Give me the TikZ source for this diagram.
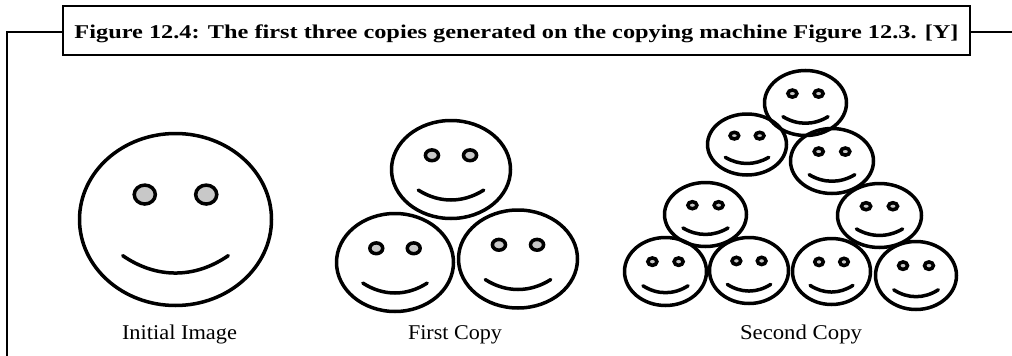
\documentclass[tikz,border=0pt]{standalone}
\usepackage{fontspec}
\setmainfont{Liberation Serif}
\usepackage{graphicx}

\definecolor{eyegray}{RGB}{200,200,200}

\tikzset{
  frameline/.style={line width=2.5pt, black},
  faceline/.style={line width=3.5pt, black},
  titlebox/.style={draw, line width=2.8pt, minimum width=907pt, minimum height=49pt,
    inner sep=0pt, text height=17pt, text depth=2pt},
  caption/.style={anchor=base, inner sep=0pt, font=\fontsize{21}{25}\selectfont}
}

% smiley face: centre x, centre y, x radius, y radius
\newcommand\smileyface[4]{%
  \begin{scope}[shift={(#1,#2)}, xscale=#3, yscale=#4]
    \draw[faceline] (0,0) circle[radius=1];
    \draw[faceline, fill=eyegray] (-0.32,-0.29) circle[radius=0.11];
    \draw[faceline, fill=eyegray] ( 0.32,-0.29) circle[radius=0.11];
    \draw[faceline, line cap=round] (-0.55,0.42) .. controls (-0.2,0.69) and (0.2,0.69) .. (0.55,0.42);
  \end{scope}}

\begin{document}
\begin{tikzpicture}[x=1pt, y=-1pt]
  \useasboundingbox (0,0) rectangle (1012,356);

  % title box and the frame running out of it
  \node[titlebox] (title) at (516.5,30.5)
    {\resizebox{884pt}{\height}{\fontsize{19.5}{23}\selectfont\bfseries
      Figure 12.4: The first three copies generated on the copying machine Figure 12.3. [Y]}};
  \coordinate (frameTL) at (7,32);
  \coordinate (frameBL) at (7,358);
  \coordinate (frameR) at (1014,32);
  \draw[frameline] (frameBL) -- (frameTL) -- (frameTL -| title.west);
  \draw[frameline] (title.east |- frameR) -- (frameR);

  % initial image
  \smileyface{175.5}{219.5}{96}{86}

  % first copy
  \smileyface{451}{169.5}{59.5}{49}
  \smileyface{395}{262.5}{58.5}{49}
  \smileyface{518}{259}{59.5}{49}

  % second copy
  \smileyface{805.5}{103}{41}{32.5}
  \smileyface{747}{144.5}{39.5}{30.5}
  \smileyface{832}{161}{41.5}{32.5}
  \smileyface{705.5}{214.5}{41}{32}
  \smileyface{879.5}{215.5}{42}{32}
  \smileyface{665.5}{271.5}{41}{34}
  \smileyface{749}{270.5}{39.5}{33}
  \smileyface{831.5}{271.5}{39}{33}
  \smileyface{916}{275.5}{40.5}{34}

  % captions
  \node[caption] (capInitial) at (179.5,339) {\resizebox{115pt}{\height}{Initial Image}};
  \node[caption] (capFirst) at (455,339) {\resizebox{94pt}{\height}{First Copy}};
  \node[caption] (capSecond) at (801,339) {\resizebox{122pt}{\height}{Second Copy}};
\end{tikzpicture}
\end{document}
